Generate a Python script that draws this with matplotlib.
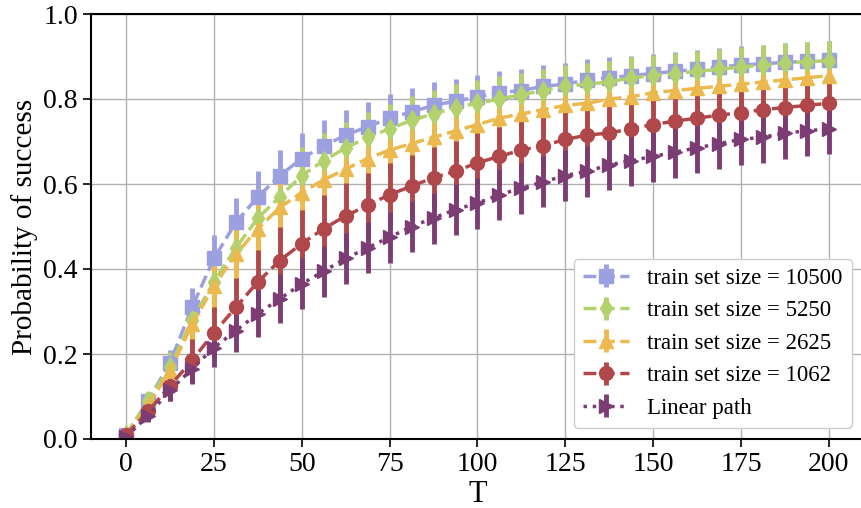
import numpy as np
import matplotlib
matplotlib.use("Agg")
import matplotlib.pyplot as plt

plt.rcParams['font.family'] = 'serif'
plt.rcParams['font.serif'] = ['Liberation Serif', 'DejaVu Serif']

T = [i * 6.25 for i in range(33)]

labels = ["train set size = 10500", "train set size = 5250",
          "train set size = 2625", "train set size = 1062", "Linear path"]

p_10500 = [0.01, 0.09, 0.18, 0.31, 0.425, 0.51, 0.57, 0.62, 0.66, 0.69, 0.715, 0.735,
           0.755, 0.77, 0.785, 0.795, 0.805, 0.815, 0.82, 0.83, 0.835, 0.845, 0.85,
           0.855, 0.86, 0.865, 0.87, 0.875, 0.88, 0.883, 0.886, 0.889, 0.892]
p_5250 = [0.01, 0.09, 0.17, 0.28, 0.37, 0.45, 0.52, 0.57, 0.62, 0.655, 0.685, 0.71,
          0.73, 0.75, 0.765, 0.78, 0.79, 0.80, 0.81, 0.82, 0.83, 0.835, 0.84, 0.85,
          0.855, 0.86, 0.865, 0.87, 0.875, 0.88, 0.885, 0.888, 0.89]
p_2625 = [0.01, 0.08, 0.16, 0.27, 0.36, 0.435, 0.495, 0.545, 0.58, 0.61, 0.635, 0.66,
          0.68, 0.695, 0.71, 0.725, 0.74, 0.755, 0.765, 0.775, 0.785, 0.79, 0.80,
          0.805, 0.815, 0.82, 0.825, 0.83, 0.835, 0.84, 0.845, 0.85, 0.855]
p_1062 = [0.01, 0.065, 0.125, 0.185, 0.25, 0.31, 0.37, 0.42, 0.46, 0.495, 0.525, 0.55,
          0.575, 0.595, 0.615, 0.63, 0.65, 0.665, 0.68, 0.69, 0.705, 0.715, 0.72,
          0.73, 0.74, 0.748, 0.755, 0.762, 0.768, 0.775, 0.78, 0.785, 0.79]
p_linear = [0.005, 0.055, 0.115, 0.165, 0.215, 0.255, 0.295, 0.33, 0.365, 0.395, 0.425,
            0.45, 0.475, 0.5, 0.52, 0.54, 0.555, 0.575, 0.59, 0.605, 0.62, 0.63, 0.645,
            0.655, 0.665, 0.675, 0.685, 0.695, 0.705, 0.71, 0.72, 0.725, 0.73]

e_10500 = [0.0, 0.02, 0.03, 0.045, 0.055, 0.058, 0.06, 0.06, 0.06, 0.06, 0.06, 0.058,
           0.056, 0.055, 0.054, 0.053, 0.052, 0.05, 0.05, 0.05, 0.049, 0.048, 0.048,
           0.047, 0.047, 0.046, 0.046, 0.045, 0.045, 0.045, 0.045, 0.045, 0.045]
e_5250 = [0.0, 0.02, 0.035, 0.05, 0.06, 0.065, 0.068, 0.068, 0.066, 0.064, 0.062, 0.06,
          0.058, 0.057, 0.056, 0.055, 0.054, 0.053, 0.052, 0.051, 0.05, 0.05, 0.049,
          0.049, 0.048, 0.048, 0.048, 0.047, 0.047, 0.047, 0.047, 0.047, 0.047]
e_2625 = [0.0, 0.02, 0.035, 0.055, 0.065, 0.07, 0.072, 0.07, 0.068, 0.065, 0.062, 0.06,
          0.058, 0.057, 0.056, 0.055, 0.054, 0.053, 0.052, 0.051, 0.05, 0.05, 0.05,
          0.05, 0.05, 0.05, 0.05, 0.05, 0.05, 0.05, 0.05, 0.05, 0.05]
e_1062 = [0.0, 0.02, 0.035, 0.05, 0.06, 0.07, 0.075, 0.078, 0.078, 0.078, 0.077, 0.076,
          0.075, 0.074, 0.073, 0.072, 0.071, 0.07, 0.069, 0.068, 0.067, 0.066, 0.065,
          0.064, 0.063, 0.062, 0.062, 0.061, 0.06, 0.06, 0.06, 0.06, 0.06]
e_linear = [0.0, 0.015, 0.025, 0.035, 0.045, 0.05, 0.055, 0.058, 0.06, 0.06, 0.06, 0.06,
            0.06, 0.06, 0.06, 0.06, 0.06, 0.06, 0.06, 0.06, 0.06, 0.06, 0.06, 0.06,
            0.06, 0.06, 0.06, 0.06, 0.06, 0.06, 0.06, 0.06, 0.06]

series = [p_10500, p_5250, p_2625, p_1062, p_linear]
errors = [e_10500, e_5250, e_2625, e_1062, e_linear]
colors = ["#9c9fe0", "#b3d16c", "#ebb94d", "#b0474a", "#7c3d74"]
markers = ["s", "d", "^", "o", ">"]
styles = ["--", "--", "--", "--", ":"]

fig = plt.figure(figsize=(8.62, 5.08), dpi=100)
ax = fig.add_axes([91/862, (508-439)/508, (864-91)/862, (439-14)/508])

for y, e, c, m, ls, lab in zip(series, errors, colors, markers, styles, labels):
    ax.errorbar(T, y, yerr=e, color=c, marker=m, linestyle=ls, linewidth=2.5,
                markersize=10, elinewidth=3.5, capsize=0, label=lab)

ax.set_xlim(-10, 210)
ax.set_ylim(0, 1)
ax.set_xticks(np.arange(0, 201, 25))
ax.set_yticks(np.arange(0, 1.01, 0.2))
ax.yaxis.set_major_formatter(matplotlib.ticker.FormatStrFormatter('%.1f'))
ax.grid(True, color="#b0b0b0", linewidth=1)
ax.set_axisbelow(True)
ax.tick_params(labelsize=20, length=6, width=1.2)
for s in ax.spines.values():
    s.set_linewidth(1.5)
ax.set_xlabel("T", fontsize=22, labelpad=2)
ax.set_ylabel("Probability of success", fontsize=21, labelpad=4)
ax.legend(loc="lower right", fontsize=16.5, bbox_to_anchor=(0.984, 0.026),
          borderaxespad=0, framealpha=1, edgecolor="#cccccc",
          handlelength=2.0, handletextpad=0.8)

fig.savefig("out.png", dpi=100)
